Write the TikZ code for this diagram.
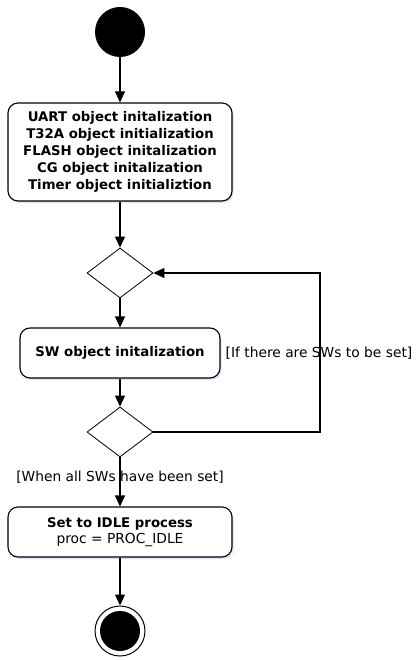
\documentclass[tikz,border=0pt]{standalone}
\usepackage{fontspec}
\setmainfont{DejaVu Sans}
\usetikzlibrary{arrows.meta,shapes.geometric,shadows}

\tikzset{
  act/.style={draw,line width=1.1pt,rounded corners=10pt,fill=white,align=center,
    font=\fontsize{13.3}{17}\selectfont\bfseries,inner sep=0pt,
    drop shadow={shadow xshift=1.5pt,shadow yshift=-2pt,fill=blue!12,opacity=1}},
  decide/.style={draw,diamond,line width=0.8pt,inner sep=0pt,minimum width=66pt,minimum height=50pt},
  flow/.style={line width=1.1pt,-{Triangle[width=10pt,length=11pt]}},
  guard/.style={font=\fontsize{13.8}{16}\selectfont,inner sep=1pt}
}

\begin{document}
\begin{tikzpicture}[x=1pt,y=-1pt]
\useasboundingbox (0,0) rectangle (416,660);
% start / end
\node[circle,fill,minimum size=50pt,inner sep=0pt] (start) at (120,32) {};
\node[circle,draw,line width=1pt,minimum size=50pt,inner sep=0pt] (stop) at (120,631) {};
\fill (stop.center) circle (20);
% activities
\node[act,minimum width=224pt,minimum height=98pt] (init) at (120,152)
  {UART object initalization\\T32A object initialization\\FLASH object initalization\\CG object initalization\\Timer object initializtion};
\node[decide] (d1) at (120,273) {};
\node[act,minimum width=200pt,minimum height=50pt] (sw) at (120,353) {SW object initalization};
\node[decide] (d2) at (120,432) {};
\node[act,minimum width=224pt,minimum height=50pt] (idle) at (120,532)
  {Set to IDLE process\\[-1pt]\mdseries\fontsize{13.8}{16}\selectfont proc = PROC\_IDLE};
\coordinate (loopR) at (320,432);
% flows
\draw[flow] (start) -- (init);
\draw[flow] (init) -- (d1);
\draw[flow] (d1) -- (sw);
\draw[flow] (sw) -- (d2);
\draw[flow] (d2.east) -- (loopR) |- (d1.east);
\draw[flow] (d2) -- (idle);
\draw[flow] (idle) -- (stop);
% guards
\node[guard] (gMore) at (319,353) {[If there are SWs to be set]};
\node[guard] (gDone) at (120,477) {[When all SWs have been set]};
\end{tikzpicture}
\end{document}
